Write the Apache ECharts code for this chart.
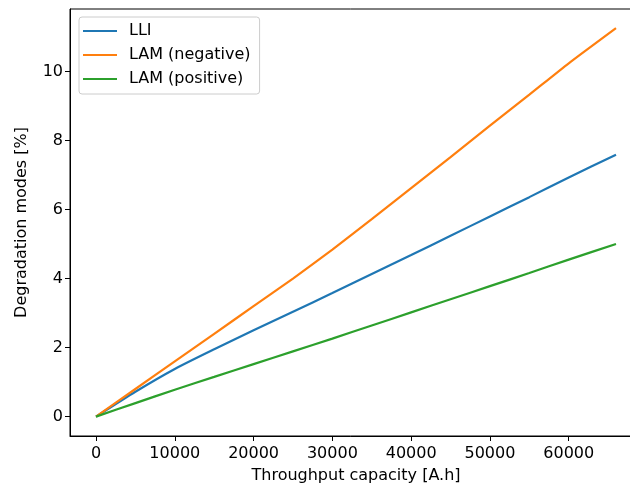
<!DOCTYPE html>
<html>
<head>
<meta charset="utf-8">
<script src="https://cdn.jsdelivr.net/npm/echarts@6/dist/echarts.min.js"></script>
<style>html,body{margin:0;padding:0;background:#fff;}#c{width:630px;height:488px;}</style>
</head>
<body>
<div id="c"></div>
<script>
const throughput = [0, 5000, 10000, 15000, 20000, 25000, 30000, 35000, 40000, 45000, 50000, 55000, 60000, 66000];
const lli = [0, 0.72, 1.38, 1.95, 2.50, 3.04, 3.58, 4.13, 4.68, 5.24, 5.80, 6.36, 6.93, 7.59];
const lamNeg = [0, 0.80, 1.60, 2.40, 3.20, 4.00, 4.84, 5.72, 6.62, 7.52, 8.43, 9.33, 10.24, 11.26];
const lamPos = [0, 0.39, 0.78, 1.15, 1.52, 1.89, 2.26, 2.64, 3.02, 3.40, 3.78, 4.16, 4.55, 5.00];
const seriesNames = ['LLI', 'LAM (negative)', 'LAM (positive)'];
const xTicks = [0, 10000, 20000, 30000, 40000, 50000, 60000];
const yTicks = [0, 2, 4, 6, 8, 10];
const xTitle = 'Throughput capacity [A.h]';
const yTitle = 'Degradation modes [%]';

const colors = ['#1f77b4', '#ff7f0e', '#2ca02c'];
const font = 'DejaVu Sans';
const fs = 16;
const pair = ys => throughput.map((x, i) => [x, ys[i]]);

const chart = echarts.init(document.getElementById('c'), null, {renderer: 'canvas'});
chart.setOption({
  animation: false,
  backgroundColor: '#fff',
  color: colors,
  grid: {left: 70, top: 9, width: 572, height: 427, outerBoundsMode: 'none', containLabel: false,
         show: true, borderColor: '#000', borderWidth: 1, backgroundColor: 'transparent'},
  legend: {
    orient: 'vertical', left: 79, top: 17,
    data: seriesNames.map(n => ({name: n, icon: 'rect'})),
    itemWidth: 34, itemHeight: 2, itemGap: 8,
    padding: [6, 9, 7, 4],
    borderColor: '#cccccc', borderWidth: 1, borderRadius: 3,
    backgroundColor: 'rgba(255,255,255,0.8)',
    textStyle: {fontFamily: font, fontSize: fs, color: '#000', padding: [0, 0, 0, 7], lineHeight: 16}
  },
  xAxis: {
    type: 'value', min: -3300, max: 69300,
    name: xTitle, nameLocation: 'middle', nameGap: 32,
    nameTextStyle: {fontFamily: font, fontSize: fs, color: '#000'},
    axisLine: {show: true, onZero: false, lineStyle: {color: '#000', width: 1}},
    axisTick: {show: true, length: 5, customValues: xTicks, lineStyle: {color: '#000'}},
    axisLabel: {customValues: xTicks, margin: 10, fontFamily: font, fontSize: fs, color: '#000', formatter: v => String(v)},
    splitLine: {show: false}
  },
  yAxis: {
    type: 'value', min: -0.5625, max: 11.8125,
    name: yTitle, nameLocation: 'middle', nameGap: 40,
    nameTextStyle: {fontFamily: font, fontSize: fs, color: '#000'},
    axisLine: {show: true, onZero: false, lineStyle: {color: '#000', width: 1}},
    axisTick: {show: true, length: 5, customValues: yTicks, lineStyle: {color: '#000'}},
    axisLabel: {customValues: yTicks, margin: 7, fontFamily: font, fontSize: fs, color: '#000', formatter: v => String(v)},
    splitLine: {show: false}
  },
  series: seriesNames.map((n, i) => ({
    name: n, type: 'line', data: pair([lli, lamNeg, lamPos][i]), symbol: 'none', smooth: 0.2,
    lineStyle: {width: 2.2}
  }))
});
</script>
</body>
</html>
